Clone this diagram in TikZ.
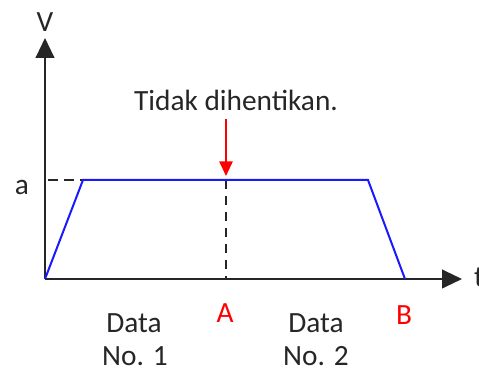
\documentclass[tikz,border=0pt]{standalone}
\usepackage{fontspec}
\setmainfont{Carlito}
\usetikzlibrary{arrows.meta}
\begin{document}
\begin{tikzpicture}[x=0.75pt,y=-0.75pt,
  axis/.style={draw=black!85, line width=1.6pt, -{Triangle[length=15pt,width=14pt]}},
  curve/.style={draw=blue!90!white, line width=1.5pt, line join=miter},
  guide/.style={draw=black!85, line width=1.5pt, dash pattern=on 7pt off 5pt},
  marker/.style={draw=red, line width=1.3pt, -{Triangle[length=11pt,width=10pt]}},
  lbl/.style={font=\fontsize{22}{26}\selectfont, text=black!85, anchor=base, inner sep=0pt},
  redlbl/.style={font=\fontsize{22}{26}\selectfont, text=red, anchor=base, inner sep=0pt}]
\useasboundingbox (0,0) rectangle (479,370);
% key points
\coordinate (O) at (45,279);
\coordinate (Vtop) at (45,38);
\coordinate (Tend) at (462,279);
\coordinate (P1) at (83,180);
\coordinate (P2) at (368,180);
\coordinate (P3) at (405,279);
\coordinate (Aaxis) at (45,180);
\coordinate (Atop) at (226,180);
\coordinate (Abot) at (226,279);
\coordinate (Mstart) at (226,119);
\coordinate (Mend) at (226,176);
% axes
\draw[axis] (O) -- (Vtop);
\draw[axis] (O) -- (Tend);
% guides
\draw[guide] ([xshift=2.5pt]Aaxis) -- (P1);
\draw[guide] (Atop) -- (Abot);
% trapezoid
\draw[curve] (O) -- (P1) -- (P2) -- (P3);
% marker
\draw[marker] (Mstart) -- (Mend);
% labels
\node[lbl] (vlab) at (45,32) {V};
\node[lbl] (tlab) at (479,287) {t};
\node[lbl] (alab) at (22,195) {a};
\node[lbl] (note) at (236,111) {Tidak dihentikan.};
\node[redlbl] (Alab) at (225,323) {A};
\node[redlbl] (Blab) at (404,325) {B};
\node[lbl] (d1a) at (134,333) {Data};
\node[lbl] (d1b) at (135,366) {No. 1};
\node[lbl] (d2a) at (316,333) {Data};
\node[lbl] (d2b) at (316,366) {No. 2};
\end{tikzpicture}
\end{document}
